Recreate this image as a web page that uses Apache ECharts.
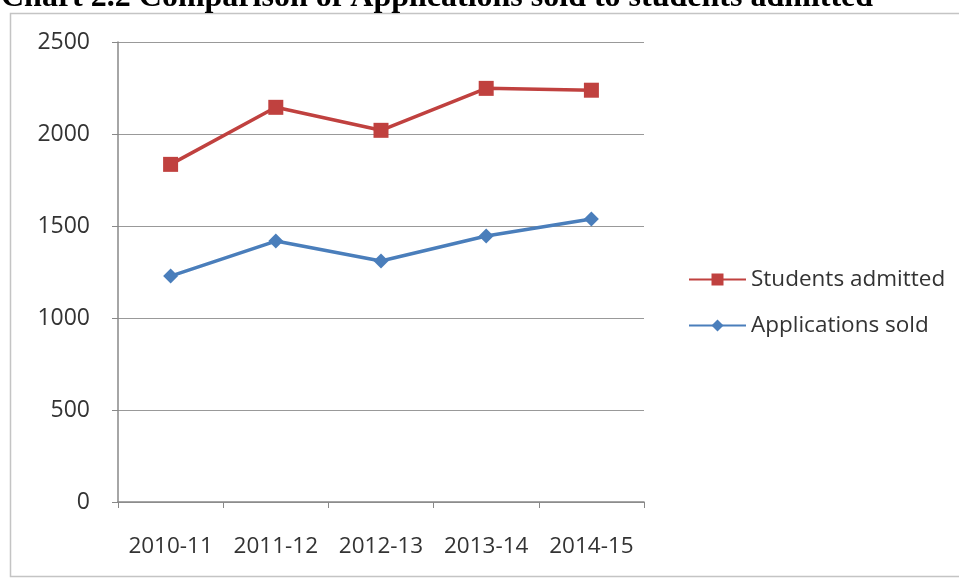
<!DOCTYPE html>
<html><head><meta charset="utf-8">
<script src="https://cdn.jsdelivr.net/npm/echarts@6/dist/echarts.min.js"></script>
<style>html,body{margin:0;padding:0;background:#fff;}#c{width:959px;height:581px;}</style>
</head><body><div id="c"></div>
<script>
const categories = ['2010-11','2011-12','2012-13','2013-14','2014-15'];
const studentsAdmitted = [1835, 2145, 2020, 2248, 2238];
const applicationsSold = [1228, 1418, 1310, 1446, 1538];
const yTicks = [0, 500, 1000, 1500, 2000, 2500];

const chart = echarts.init(document.getElementById('c'));
chart.setOption({
  animation: false,
  backgroundColor: '#fff',
  graphic: [
    {type:'rect', shape:{x:10.5, y:13.5, width:1000, height:563}, style:{fill:'none', stroke:'#c4c4c4', lineWidth:1.5}, z:-1},
    {type:'text', x:1, y:14, style:{text:'Chart 2.2 Comparison of Applications sold to students admitted', font:'bold 32px "Liberation Serif", "Times New Roman", serif', fill:'#000', verticalAlign:'bottom'}}
  ],
  grid: {left:118, right:315, top:42, bottom:79, containLabel:false},
  legend: {
    orient:'vertical', left:683, top:263, itemGap:23, itemWidth:57, itemHeight:15,
    textStyle:{fontFamily:'Open Sans', fontSize:22.5, color:'#333'},
    data:['Students admitted','Applications sold']
  },
  xAxis: {
    type:'category', data:categories, boundaryGap:true,
    axisLine:{lineStyle:{color:'#888', width:1.5}},
    axisTick:{show:true, length:6, interval:0, lineStyle:{color:'#888'}},
    axisLabel:{color:'#333', fontFamily:'Open Sans', fontSize:22.5, margin:33, interval:0}
  },
  yAxis: {
    type:'value', min:yTicks[0], max:yTicks[yTicks.length-1], interval:500,
    axisLine:{show:true, lineStyle:{color:'#888', width:1.5}},
    axisTick:{show:true, length:6, lineStyle:{color:'#888'}},
    splitLine:{lineStyle:{color:'#999', width:1.2}},
    axisLabel:{color:'#333', fontFamily:'Open Sans', fontSize:23, margin:28, formatter:function(v){return String(v);}}
  },
  series: [
    {name:'Students admitted', type:'line', data:studentsAdmitted, symbol:'rect', symbolSize:15,
     lineStyle:{color:'#c0413f', width:3.5}, itemStyle:{color:'#c0413f'}},
    {name:'Applications sold', type:'line', data:applicationsSold, symbol:'diamond', symbolSize:15,
     lineStyle:{color:'#4a7ebb', width:3.5}, itemStyle:{color:'#4a7ebb'}}
  ]
});
</script></body></html>
